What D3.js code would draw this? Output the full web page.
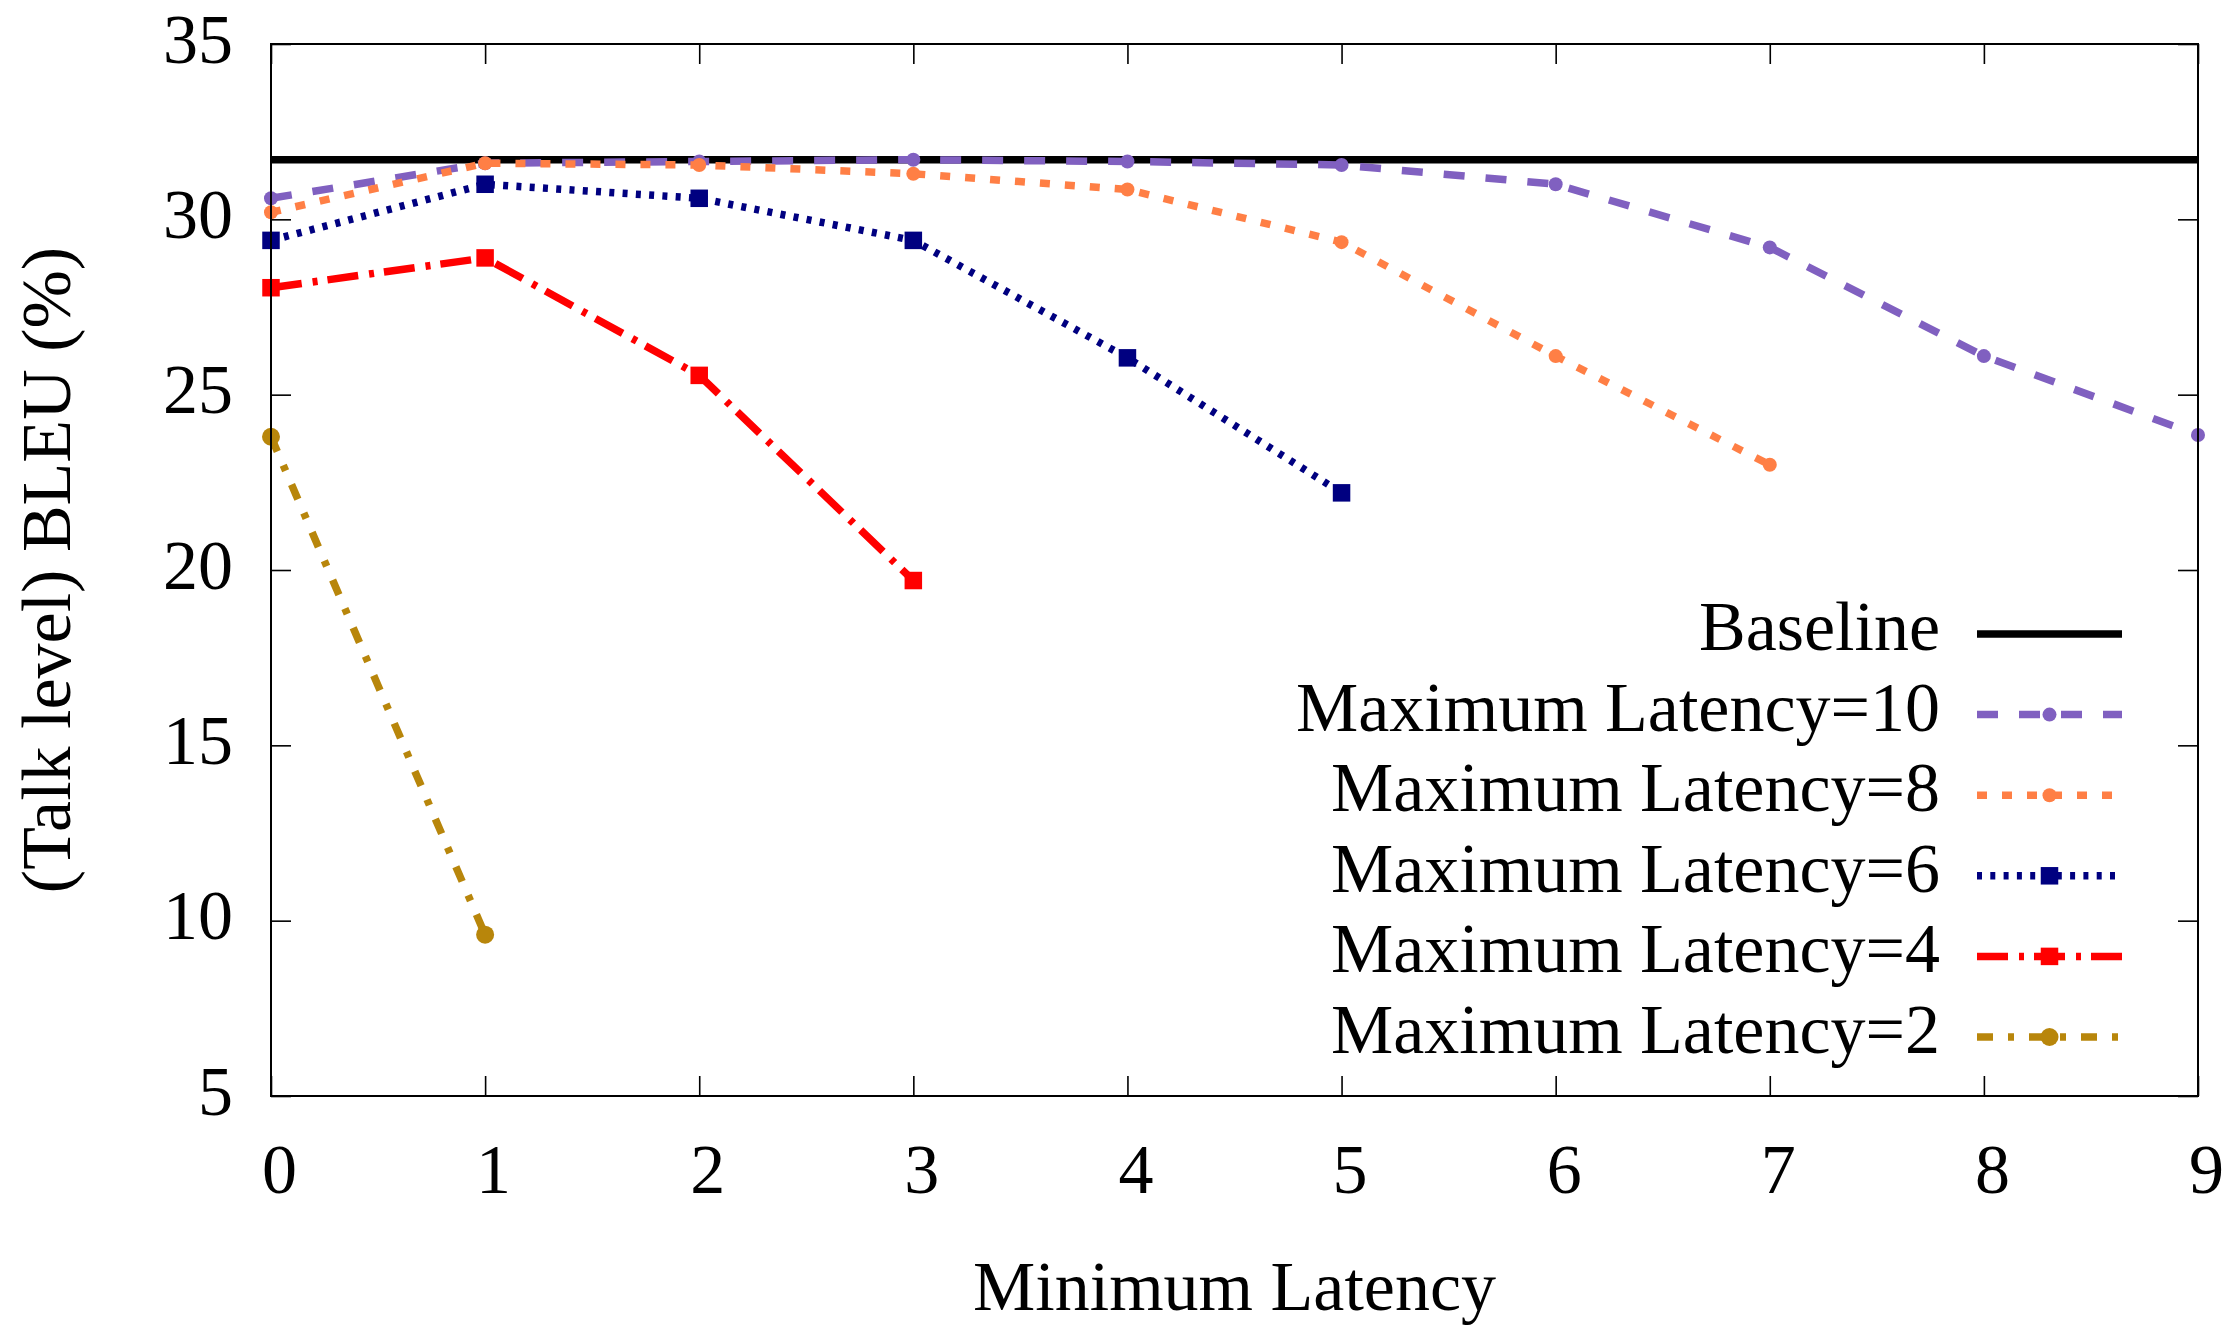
<!DOCTYPE html>
<html>
<head>
<meta charset="utf-8">
<script src="https://cdn.jsdelivr.net/npm/d3@7"></script>
<style>
  body { margin: 0; background: #fff; }
  svg { display: block; }
  text { font-family: "Liberation Serif", "Times New Roman", serif; fill: #000; }
</style>
</head>
<body>
<div class="chart"></div>
<script>
// minimum latency values on the x axis
var minLatency = [0, 1, 2, 3, 4, 5, 6, 7, 8, 9];

// BLEU of the full-sentence baseline
var baselineBleu = 31.7;

// one array per maximum latency
var bleuMax10 = [30.6, 31.6, 31.65, 31.7, 31.65, 31.55, 31.0, 29.2, 26.1, 23.85];
var bleuMax8 = [30.2, 31.6, 31.55, 31.3, 30.85, 29.35, 26.1, 23.0];
var bleuMax6 = [29.4, 31.0, 30.6, 29.4, 26.05, 22.2];
var bleuMax4 = [28.05, 28.9, 25.55, 19.7];
var bleuMax2 = [23.8, 9.6];

var legendLabels = ["Baseline", "Maximum Latency=10", "Maximum Latency=8",
    "Maximum Latency=6", "Maximum Latency=4", "Maximum Latency=2"];

var xTicks = [0, 1, 2, 3, 4, 5, 6, 7, 8, 9];
var yTicks = [5, 10, 15, 20, 25, 30, 35];

var svgWidth = 2238;
var svgHeight = 1328;
var margin = { top: 44, right: 40, bottom: 232, left: 271 };
var width = svgWidth - margin.left - margin.right;
var height = svgHeight - margin.top - margin.bottom;
var fontFamily = "'Liberation Serif', 'Times New Roman', serif";

var svg = d3.select(".chart")
    .append("svg")
    .attr("width", svgWidth)
    .attr("height", svgHeight);

var chart = svg.append("g")
    .attr("transform", "translate(" + margin.left + "," + margin.top + ")");

var xScale = d3.scaleLinear().domain([0, 9]).range([0, width]);
var yScale = d3.scaleLinear().domain([5, 35]).range([height, 0]);

// series styles (dash arrays in px)
var series = [
    { values: bleuMax10, color: "#8060c0", dash: "21,21", marker: "circle", size: 7 },
    { values: bleuMax8, color: "#ff7f45", dash: "10,15", marker: "circle", size: 7 },
    { values: bleuMax6, color: "#000080", dash: "5,8.3", marker: "square", size: 17.5 },
    { values: bleuMax4, color: "#ff0000", dash: "31,11,5,10", marker: "square", size: 17.5 },
    { values: bleuMax2, color: "#b8860b", dash: "16,15,6,15", marker: "circle", size: 9 }
];

// axes: inward ticks on all four sides
function styleAxis(g) {
    g.select(".domain").remove();
    g.selectAll(".tick line").attr("stroke", "#000").attr("stroke-width", 1.6);
}

var bottomAxis = d3.axisBottom(xScale).tickValues(xTicks).tickSizeInner(-20).tickSizeOuter(0);
var leftAxis = d3.axisLeft(yScale).tickValues(yTicks).tickSizeInner(-20).tickSizeOuter(0);
var topAxis = d3.axisTop(xScale).tickValues(xTicks).tickSizeInner(-20).tickSizeOuter(0).tickFormat("");
var rightAxis = d3.axisRight(yScale).tickValues(yTicks).tickSizeInner(-20).tickSizeOuter(0).tickFormat("");

var gx = chart.append("g")
    .attr("transform", "translate(0," + height + ")")
    .call(bottomAxis)
    .call(styleAxis);
gx.selectAll(".tick text")
    .attr("x", 8)
    .attr("y", 97)
    .attr("dy", null)
    .style("font-size", "70px")
    .style("font-family", fontFamily);

var gy = chart.append("g")
    .call(leftAxis)
    .call(styleAxis);
gy.selectAll(".tick text")
    .attr("x", -38)
    .attr("dy", null)
    .attr("y", 18)
    .style("font-size", "70px")
    .style("font-family", fontFamily);

chart.append("g").call(topAxis).call(styleAxis).selectAll("text").remove();
chart.append("g")
    .attr("transform", "translate(" + width + ",0)")
    .call(rightAxis)
    .call(styleAxis)
    .selectAll("text").remove();

// baseline
chart.append("line")
    .attr("x1", xScale(0))
    .attr("x2", xScale(9))
    .attr("y1", yScale(baselineBleu))
    .attr("y2", yScale(baselineBleu))
    .attr("stroke", "#000")
    .attr("stroke-width", 7.5);

var line = d3.line()
    .x(function(d, i) { return xScale(minLatency[i]); })
    .y(function(d) { return yScale(d); });

function drawMarker(g, s, cx, cy) {
    if (s.marker === "circle") {
        g.append("circle")
            .attr("cx", cx).attr("cy", cy).attr("r", s.size)
            .attr("fill", s.color);
    } else {
        g.append("rect")
            .attr("x", cx - s.size / 2).attr("y", cy - s.size / 2)
            .attr("width", s.size).attr("height", s.size)
            .attr("fill", s.color);
    }
}

series.forEach(function(s) {
    var g = chart.append("g");
    g.append("path")
        .datum(s.values)
        .attr("d", line)
        .attr("fill", "none")
        .attr("stroke", s.color)
        .attr("stroke-width", 7.5)
        .attr("stroke-dasharray", s.dash)
        .attr("stroke-linecap", "butt");
    s.values.forEach(function(v, i) {
        drawMarker(g, s, xScale(minLatency[i]), yScale(v));
    });
});

// frame
chart.append("rect")
    .attr("width", width)
    .attr("height", height)
    .attr("fill", "none")
    .attr("stroke", "#000")
    .attr("stroke-width", 2);

// legend
var legend = svg.append("g");
var legX1 = 1977, legX2 = 2122, legTextX = 1940;
legendLabels.forEach(function(label, i) {
    var y = 634 + i * 80.6;
    legend.append("text")
        .attr("x", legTextX)
        .attr("y", y + 16)
        .attr("text-anchor", "end")
        .style("font-size", "70px")
        .text(label);
    if (i === 0) {
        legend.append("line")
            .attr("x1", legX1).attr("x2", legX2)
            .attr("y1", y).attr("y2", y)
            .attr("stroke", "#000").attr("stroke-width", 7.5);
    } else {
        var s = series[i - 1];
        legend.append("line")
            .attr("x1", legX1).attr("x2", legX2)
            .attr("y1", y).attr("y2", y)
            .attr("stroke", s.color).attr("stroke-width", 7.5)
            .attr("stroke-dasharray", s.dash);
        drawMarker(legend, s, (legX1 + legX2) / 2, y);
    }
});

// axis titles
svg.append("text")
    .attr("x", margin.left + width / 2)
    .attr("y", 1310)
    .attr("text-anchor", "middle")
    .style("font-size", "70px")
    .text("Minimum Latency");

svg.append("text")
    .attr("transform", "translate(70," + (margin.top + height / 2) + ") rotate(-90)")
    .attr("text-anchor", "middle")
    .style("font-size", "70px")
    .text("(Talk level) BLEU (%)");
</script>
</body>
</html>
